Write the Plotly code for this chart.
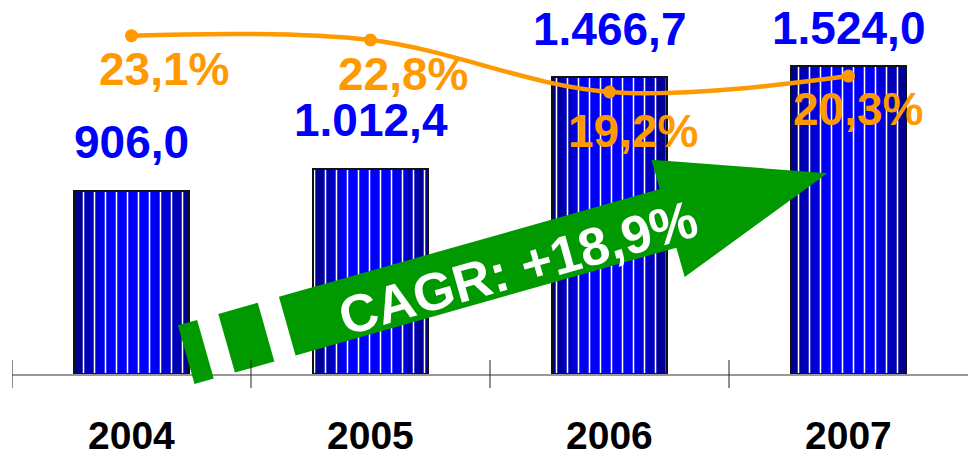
import math
import plotly.graph_objects as go

# ---------------- data ----------------
years = ["2004", "2005", "2006", "2007"]
values = [906.0, 1012.4, 1466.7, 1524.0]
value_labels = ["906,0", "1.012,4", "1.466,7", "1.524,0"]
growth = [23.1, 22.8, 19.2, 20.3]
growth_labels = ["23,1%", "22,8%", "19,2%", "20,3%"]
cagr_label = "CAGR: +18,9%"

# ---------------- styling / layout constants ----------------
W, H = 968, 457
ML, MR, MT, MB = 12, 0, 0, 83
PW, PH = W - ML - MR, H - MT - MB
FONT = "Liberation Sans, Arial, sans-serif"
BLUE_TXT = "#0000FF"
ORANGE = "#FF9900"
GREEN = "#009900"
BAR_W = 0.481
# pixel offsets of value labels above bar tops
value_shift = [49, 49, 48, 38]
# (x shift, y shift) in pixels of growth labels relative to their markers
growth_shift = [(32, -33), (32.5, -34), (23, -39), (9.5, -32.5)]
# bar gradient layers: (width fraction, blue level)
grad_layers = [(1.0, 150), (0.82, 185), (0.66, 215), (0.52, 240), (0.40, 255)]

fig = go.Figure()

for frac, b in grad_layers:
    fig.add_trace(go.Bar(
        x=years, y=values, width=BAR_W * frac,
        marker=dict(color=f"rgb(0,0,{b})", line=dict(width=0)),
        hoverinfo="skip", showlegend=False,
    ))
# white vertical stripes + black outline
fig.add_trace(go.Bar(
    x=years, y=values, width=BAR_W,
    marker=dict(color="rgba(0,0,0,0)",
                line=dict(color="#111111", width=2),
                pattern=dict(shape="|", fgcolor="white", bgcolor="rgba(0,0,0,0)",
                             size=11, solidity=0.14, fillmode="replace")),
    hoverinfo="skip", showlegend=False,
))

# growth line
fig.add_trace(go.Scatter(
    x=years, y=growth, yaxis="y2", mode="lines+markers",
    line=dict(color=ORANGE, width=4.5, shape="spline", smoothing=1.0),
    marker=dict(color=ORANGE, size=13),
    hoverinfo="skip", showlegend=False,
))

annotations = []
# category axis: annotations use the category index
for i, (v, lab, sh) in enumerate(zip(values, value_labels, value_shift)):
    annotations.append(dict(
        x=i, y=v, xref="x", yref="y", text=f"<b>{lab}</b>", showarrow=False,
        xanchor="center", yanchor="middle", yshift=sh,
        font=dict(family=FONT, size=46, color=BLUE_TXT),
    ))
for i, (g, lab, (dx, dy)) in enumerate(zip(growth, growth_labels, growth_shift)):
    annotations.append(dict(
        x=i, y=g, xref="x", yref="y2", text=f"<b>{lab}</b>", showarrow=False,
        xanchor="center", yanchor="middle", xshift=dx, yshift=dy,
        font=dict(family=FONT, size=46, color=ORANGE),
    ))
for i, yr in enumerate(years):
    annotations.append(dict(
        x=i, y=0, xref="x", yref="paper", text=f"<b>{yr}</b>", showarrow=False,
        xanchor="center", yanchor="middle", yshift=-61,
        font=dict(family=FONT, size=39, color="black"),
    ))


def to_paper(px, py):
    return (px - ML) / PW, (MT + PH - py) / PH


# green arrow geometry (pixels)
theta = math.radians(15.8)
ox, oy = 186.2, 354.7
d = (math.cos(theta), -math.sin(theta))
nrm = (-math.sin(theta), -math.cos(theta))


def pt(u, v):
    px = ox + u * d[0] + v * nrm[0]
    py = oy + u * d[1] + v * nrm[1]
    return to_paper(px, py)


def path(points):
    s = ""
    for i, (u, v) in enumerate(points):
        x, y = pt(u, v)
        s += ("M" if i == 0 else "L") + f"{x:.5f},{y:.5f} "
    return s + "Z"


hw = 30.5
hb, tip, hh = 500.8, 666.4, 61
shapes = []
for poly in [
    [(0, hw), (20, hw), (20, -hw), (0, -hw)],
    [(42, hw), (83, hw), (83, -hw), (42, -hw)],
    [(105, hw), (hb, hw), (hb, hh), (tip, 0), (hb, -hh), (hb, -hw), (105, -hw)],
]:
    shapes.append(dict(type="path", xref="paper", yref="paper", path=path(poly),
                       fillcolor=GREEN, line=dict(width=0), layer="above"))

# category boundary tick marks
for i in range(len(years)):
    shapes.append(dict(type="line", xref="x", yref="paper",
                       x0=i - 0.5, x1=i - 0.5, y0=-14 / PH, y1=14 / PH,
                       line=dict(color="#222222", width=1), layer="above"))

tx, ty = to_paper(518, 267)
annotations.append(dict(
    x=tx, y=ty, xref="paper", yref="paper", text=f"<b>{cagr_label}</b>", showarrow=False,
    xanchor="center", yanchor="middle", textangle=-15.8,
    font=dict(family=FONT, size=53, color="white"),
))

fig.update_layout(
    width=W, height=H,
    margin=dict(l=ML, r=MR, t=MT, b=MB, pad=0),
    paper_bgcolor="white", plot_bgcolor="white",
    barmode="overlay", bargap=0,
    showlegend=False,
    xaxis=dict(type="category", range=[-0.5, 3.5], showticklabels=False,
               showgrid=False, zeroline=False, ticks="",
               showline=True, linecolor="#999999", linewidth=1.5),
    yaxis=dict(range=[0, 1848], visible=False, showgrid=False, zeroline=False),
    yaxis2=dict(range=[-0.33, 25.57], overlaying="y", visible=False,
                showgrid=False, zeroline=False),
    annotations=annotations,
    shapes=shapes,
)

fig.write_html("out.html", config={"displayModeBar": False},
               post_script="document.body.style.margin='0';")
